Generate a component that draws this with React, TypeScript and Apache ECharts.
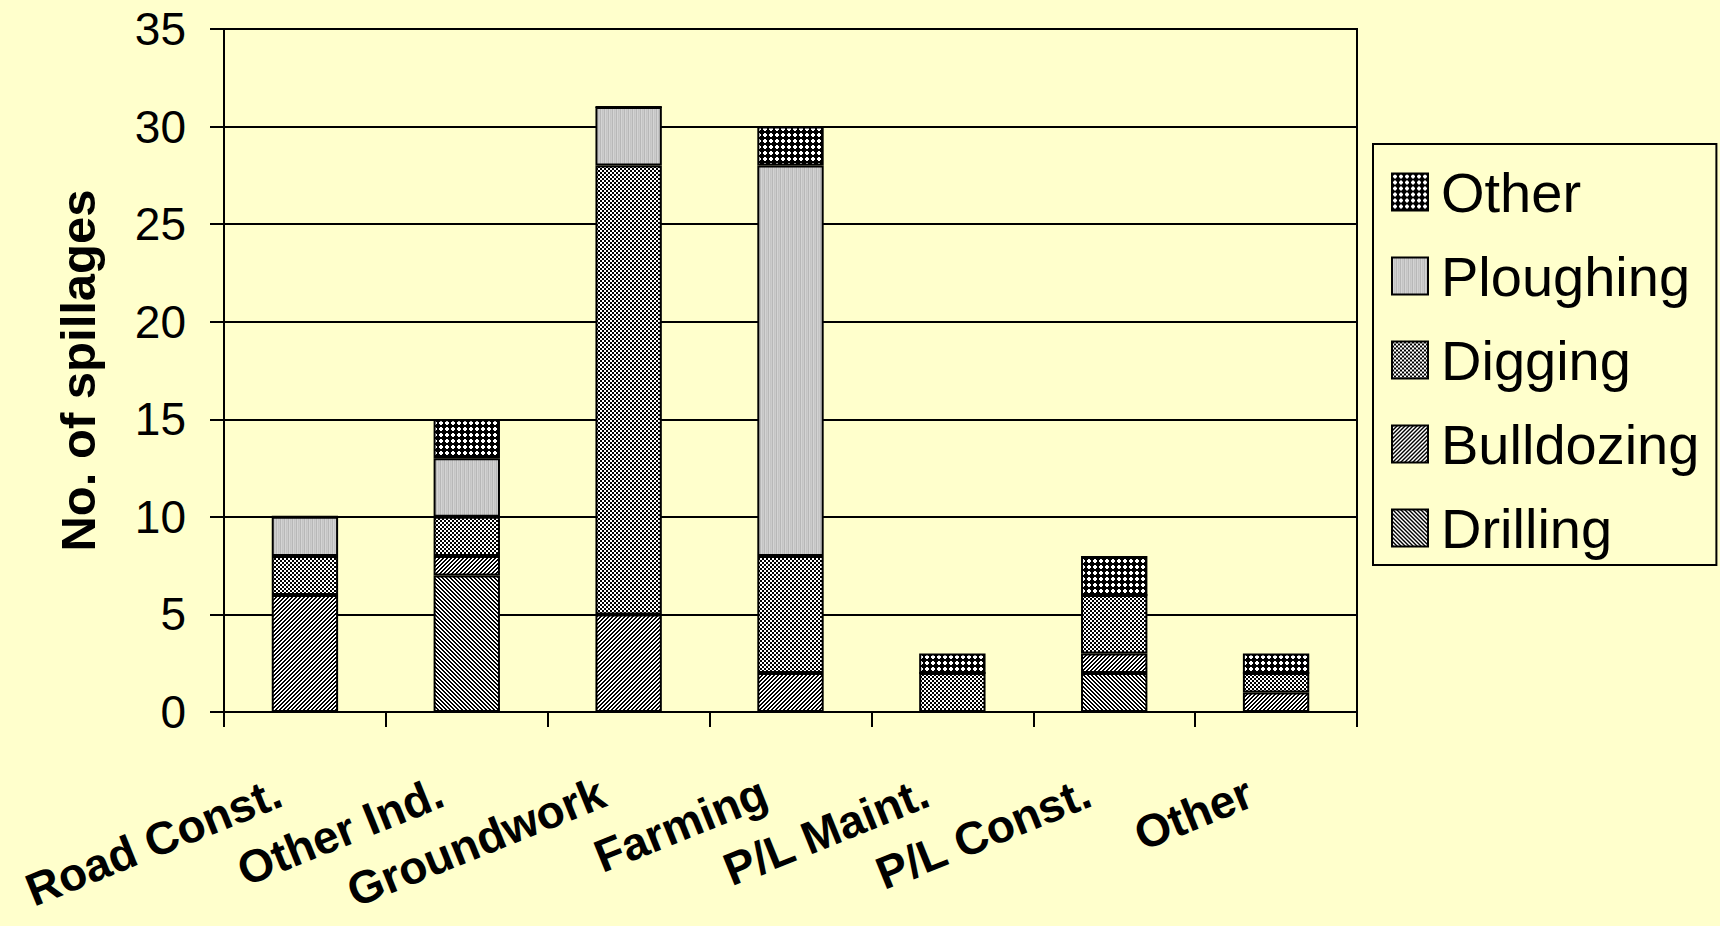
import React, { useEffect, useRef } from "react";
import * as echarts from "echarts";

const categories = ["Road Const.", "Other Ind.", "Groundwork", "Farming", "P/L Maint.", "P/L Const.", "Other"];
const drilling = [0, 7, 0, 0, 0, 2, 0];
const bulldozing = [6, 1, 5, 2, 0, 1, 1];
const digging = [2, 2, 23, 6, 2, 3, 1];
const ploughing = [2, 3, 3, 20, 0, 0, 0];
const other = [0, 2, 0, 2, 1, 2, 1];
const legendOrder = ["Other", "Ploughing", "Digging", "Bulldozing", "Drilling"];
const yMin = 0;
const yMax = 35;
const yStep = 5;

const FONT = "'Liberation Sans', Arial, Helvetica, sans-serif";

function makePattern(size: number, fn: (x: number, y: number) => string) {
  const c = document.createElement("canvas");
  c.width = size;
  c.height = size;
  const ctx = c.getContext("2d")!;
  for (let y = 0; y < size; y++) {
    for (let x = 0; x < size; x++) {
      ctx.fillStyle = fn(x, y);
      ctx.fillRect(x, y, 1, 1);
    }
  }
  return { image: c, repeat: "repeat" as const };
}

export default function App() {
  const ref = useRef<HTMLDivElement>(null);
  useEffect(() => {
    document.body.style.margin = "0";
    const chart = echarts.init(ref.current!, null, { renderer: "svg" });

    const pDrilling = makePattern(4, (x, y) => ((((x - y) % 4) + 4) % 4 < 2 ? "#000" : "#fff"));
    const pBulldozing = makePattern(4, (x, y) => ((x + y) % 4 < 2 ? "#000" : "#fff"));
    const pDigging = makePattern(4, (x, y) => ((Math.floor(x / 2) + Math.floor(y / 2)) % 2 === 0 ? "#000" : "#fff"));
    const pPloughing = makePattern(4, (x) => ["#b8b8b8", "#d4d4d4", "#c4c4c4", "#cccccc"][x]);
    const pOther = makePattern(6, (x, y) => {
      const px = x >= 2 && x <= 3 && y >= 1 && y <= 4;
      const py = y >= 2 && y <= 3 && x >= 1 && x <= 4;
      return px || py ? "#fff" : "#000";
    });

    const mk = (name: string, data: number[], pattern: any) => ({
      name,
      type: "bar",
      stack: "total",
      data,
      barWidth: "41%",
      itemStyle: { color: pattern, borderColor: "#000", borderWidth: 2 },
      emphasis: { disabled: true },
    });

    chart.setOption({
      animation: false,
      backgroundColor: "#FFFFCC",
      textStyle: { fontFamily: FONT, color: "#000" },
      grid: {
        left: 224,
        right: 363,
        top: 29,
        bottom: 214,
        outerBoundsMode: "none",
        containLabel: false,
        show: true,
        borderColor: "#000",
        borderWidth: 2,
      },
      legend: {
        orient: "vertical",
        left: 1373,
        top: 144,
        data: legendOrder,
        icon: "rect",
        itemWidth: 36,
        itemHeight: 37,
        itemGap: 28,
        padding: [20, 17, 9, 18],
        borderColor: "#000",
        borderWidth: 2,
        selectedMode: false,
        itemStyle: { borderColor: "#000", borderWidth: 2 },
        textStyle: {
          fontFamily: FONT,
          fontSize: 56,
          color: "#000",
          padding: [0, 0, 0, 8],
        },
      },
      xAxis: {
        type: "category",
        data: categories,
        axisLine: { show: true, lineStyle: { color: "#000", width: 2 } },
        axisTick: { show: true, length: 15, lineStyle: { color: "#000", width: 2 } },
        axisLabel: {
          interval: 0,
          rotate: 22,
          margin: 68,
          padding: [0, 28, 0, 0],
          fontFamily: FONT,
          fontSize: 46,
          fontWeight: "bold",
          color: "#000",
        },
      },
      yAxis: {
        type: "value",
        min: yMin,
        max: yMax,
        interval: yStep,
        name: "No. of spillages",
        nameLocation: "middle",
        nameGap: 146,
        nameTextStyle: {
          fontFamily: FONT,
          fontSize: 49,
          fontWeight: "bold",
          color: "#000",
          verticalAlign: "middle",
        },
        axisLine: { show: true, lineStyle: { color: "#000", width: 2 } },
        axisTick: { show: true, length: 14, lineStyle: { color: "#000", width: 2 } },
        axisLabel: { margin: 38, fontFamily: FONT, fontSize: 46, color: "#000" },
        splitLine: { show: true, lineStyle: { color: "#000", width: 2 } },
      },
      series: [
        mk("Drilling", drilling, pDrilling),
        mk("Bulldozing", bulldozing, pBulldozing),
        mk("Digging", digging, pDigging),
        mk("Ploughing", ploughing, pPloughing),
        mk("Other", other, pOther),
      ],
    });
    return () => chart.dispose();
  }, []);
  return (
    <div
      ref={ref}
      style={{ position: "absolute", left: 0, top: 0, width: 1720, height: 926 }}
    />
  );
}
